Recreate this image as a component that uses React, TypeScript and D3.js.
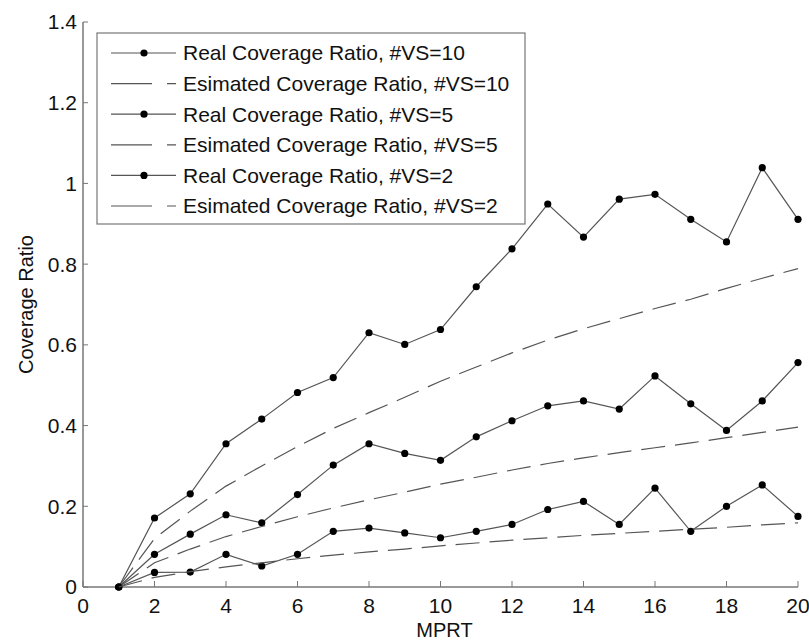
import React from "react";
import * as d3 from "d3";

// MPRT values on the x axis
const mprt = [1, 2, 3, 4, 5, 6, 7, 8, 9, 10, 11, 12, 13, 14, 15, 16, 17, 18, 19, 20];

// measured coverage ratio
const realVS10 = [0, 0.171, 0.231, 0.355, 0.416, 0.482, 0.519, 0.63, 0.601, 0.638, 0.744, 0.838, 0.949, 0.867, 0.961, 0.973, 0.911, 0.855, 1.039, 0.911];
const realVS5 = [0, 0.081, 0.131, 0.179, 0.159, 0.229, 0.302, 0.355, 0.331, 0.314, 0.372, 0.412, 0.449, 0.461, 0.441, 0.523, 0.454, 0.388, 0.461, 0.556];
const realVS2 = [0, 0.036, 0.037, 0.081, 0.052, 0.081, 0.138, 0.146, 0.134, 0.122, 0.138, 0.155, 0.192, 0.212, 0.155, 0.245, 0.138, 0.2, 0.253, 0.175];

// estimated coverage ratio
const estVS10 = [0, 0.12, 0.188, 0.25, 0.3, 0.348, 0.393, 0.432, 0.47, 0.51, 0.545, 0.58, 0.612, 0.64, 0.665, 0.69, 0.713, 0.74, 0.765, 0.789];
const estVS5 = [0, 0.06, 0.094, 0.125, 0.15, 0.174, 0.196, 0.216, 0.235, 0.255, 0.272, 0.29, 0.306, 0.32, 0.333, 0.345, 0.357, 0.37, 0.383, 0.396];
const estVS2 = [0, 0.024, 0.038, 0.05, 0.06, 0.07, 0.079, 0.087, 0.094, 0.102, 0.109, 0.116, 0.122, 0.128, 0.133, 0.138, 0.143, 0.148, 0.154, 0.159];

const xTicks = [0, 2, 4, 6, 8, 10, 12, 14, 16, 18, 20];
const yTicks = [0, 0.2, 0.4, 0.6, 0.8, 1, 1.2, 1.4];

const series = [
  { label: "Real Coverage Ratio, #VS=10", values: realVS10, real: true },
  { label: "Esimated Coverage Ratio, #VS=10", values: estVS10, real: false },
  { label: "Real Coverage Ratio, #VS=5", values: realVS5, real: true },
  { label: "Esimated Coverage Ratio, #VS=5", values: estVS5, real: false },
  { label: "Real Coverage Ratio, #VS=2", values: realVS2, real: true },
  { label: "Esimated Coverage Ratio, #VS=2", values: estVS2, real: false },
];

export default function App() {
  const width = 809;
  const height = 642;
  const margin = { top: 22, right: 11, bottom: 55, left: 83 };
  const innerWidth = width - margin.left - margin.right;
  const innerHeight = height - margin.top - margin.bottom;

  const x = d3.scaleLinear().domain([0, 20]).range([0, innerWidth]);
  const y = d3.scaleLinear().domain([0, 1.4]).range([innerHeight, 0]);

  const line = d3.line<number>()
    .x((d, i) => x(mprt[i]))
    .y(d => y(d));

  const font = "'Liberation Sans', Arial, sans-serif";
  const axisColor = "#777";

  // legend layout
  const lg = { x: 14, y: 11, w: 428, h: 191, row: 30.6 };

  return (
    <svg width={width} height={height} style={{ position: "absolute", left: 0, top: 0 }}
      fontFamily={font}>
      <rect width={width} height={height} fill="#fff" />
      <g transform={`translate(${margin.left},${margin.top})`}>
        {/* axes */}
        <line x1={0} x2={0} y1={0} y2={innerHeight} stroke={axisColor} strokeWidth={1.5} />
        <line x1={0} x2={innerWidth} y1={innerHeight} y2={innerHeight} stroke={axisColor} strokeWidth={1.5} />
        {yTicks.map(t => (
          <g key={"y" + t} transform={`translate(0,${y(t)})`}>
            <line x1={0} x2={5} stroke={axisColor} strokeWidth={1} />
            <text x={-6} dy="0.35em" textAnchor="end" fontSize={21} fill="#111">{t}</text>
          </g>
        ))}
        {xTicks.map(t => (
          <g key={"x" + t} transform={`translate(${x(t)},${innerHeight})`}>
            <line y1={0} y2={-6} stroke={axisColor} strokeWidth={1} />
            <text y={26} textAnchor="middle" fontSize={21} fill="#111">{t}</text>
          </g>
        ))}
        <text x={innerWidth / 2 + 4} y={innerHeight + 50} textAnchor="middle" fontSize={20} fill="#111">MPRT</text>
        <text transform={`translate(-50,${innerHeight / 2}) rotate(-90)`} textAnchor="middle" fontSize={20} fill="#111">Coverage Ratio</text>

        {/* series */}
        {series.map((s, k) => (
          <g key={k}>
            <path d={line(s.values) || ""} fill="none"
              stroke={s.real ? "#555" : "#555"} strokeWidth={1.2}
              strokeDasharray={s.real ? undefined : "24 10"} />
            {s.real && s.values.map((v, i) => (
              <circle key={i} cx={x(mprt[i])} cy={y(v)} r={3.6} fill="#000" />
            ))}
          </g>
        ))}

        {/* legend */}
        <g transform={`translate(${lg.x},${lg.y})`}>
          <rect width={lg.w} height={lg.h} fill="#fff" stroke={axisColor} strokeWidth={1.2} />
          {series.map((s, k) => {
            const yy = 20 + k * lg.row;
            return (
              <g key={k} transform={`translate(0,${yy})`}>
                <line x1={14} x2={79} stroke="#555" strokeWidth={1.2}
                  strokeDasharray={s.real ? undefined : "41 15"} />
                {s.real && <circle cx={47} cy={0} r={3.6} fill="#000" />}
                <text x={86} dy="0.35em" fontSize={21} fill="#111">{s.label}</text>
              </g>
            );
          })}
        </g>
      </g>
    </svg>
  );
}
